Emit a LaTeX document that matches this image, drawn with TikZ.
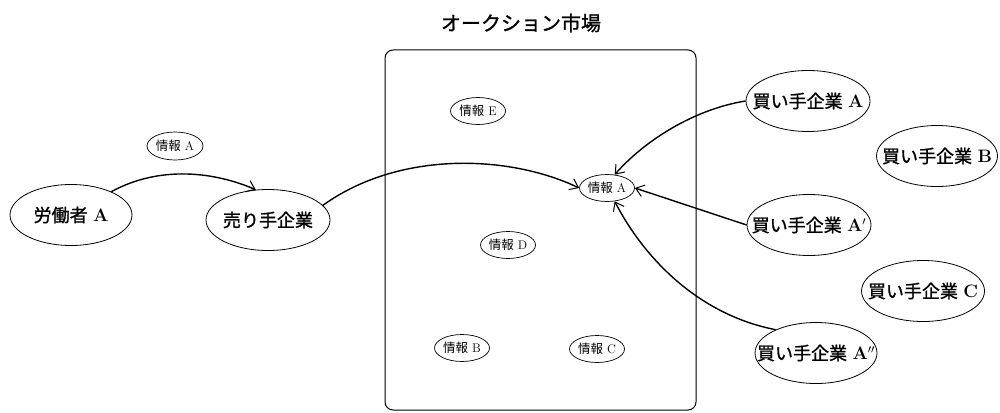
\documentclass[tikz,border=0pt]{standalone}
\usepackage{fontspec}
\newfontfamily\cjk{Noto Sans CJK JP}
\newfontfamily\cjkb[FakeBold=1.2]{Noto Sans CJK JP}
\usetikzlibrary{shapes.geometric,arrows.meta}
\tikzset{
  big/.style={ellipse,draw,line width=0.8pt,inner ysep=0pt,inner xsep=-16pt,minimum width=124pt,minimum height=61pt,font=\fontsize{18}{20}\selectfont},
  info/.style={ellipse,draw,line width=0.7pt,inner ysep=0pt,inner xsep=-4pt,minimum width=55pt,minimum height=27pt,font=\fontsize{12.5}{14}\selectfont},
  conn/.style={line width=1.4pt,-{Straight Barb[length=8pt,width=12pt,line width=1pt]}},
}
\begin{document}
\begin{tikzpicture}[x=1pt,y=-1pt]
\useasboundingbox (0,0) rectangle (1000,412);
\draw[line width=1pt,rounded corners=8pt] (385,50) rectangle (696,410);
\node[font=\fontsize{20}{22}\selectfont] (title) at (521,23) {\cjkb オークション市場};
\node[big,minimum width=122pt] (worker) at (71,215) {{\cjkb 労働者} \textbf{A}};
\node[big] (seller) at (268,220) {\cjkb 売り手企業};
\node[info,minimum width=56pt,minimum height=28pt] (infoAl) at (175,146) {{\cjk 情報} A};
\node[info] (infoE) at (478,111) {{\cjk 情報} E};
\node[info] (infoA) at (607,188) {{\cjk 情報} A};
\node[info] (infoD) at (508,245) {{\cjk 情報} D};
\node[info] (infoB) at (462,348) {{\cjk 情報} B};
\node[info] (infoC) at (597,349) {{\cjk 情報} C};
\node[big] (buyA) at (808,101) {{\cjkb 買い手企業} \textbf{A}};
\node[big,minimum width=121pt] (buyB) at (937,156) {{\cjkb 買い手企業} \textbf{B}};
\node[big] (buyA1) at (809,225) {{\cjkb 買い手企業} \textbf{A$'$}};
\node[big,minimum width=123pt] (buyC) at (923,291) {{\cjkb 買い手企業} \textbf{C}};
\node[big,minimum width=122pt] (buyA2) at (816,353) {{\cjkb 買い手企業} \textbf{A$''$}};
\draw[conn] (worker.30) .. controls (160,165) and (215,172) .. (seller.112);
\draw[conn] (seller.15) .. controls (400,150) and (510,155) .. (infoA.west);
\draw[conn] (buyA.west) .. controls (695,109) and (645,140) .. (infoA.60);
\draw[conn] (buyA1.west) -- (infoA.east);
\draw[conn] (buyA2.150) .. controls (700,315) and (645,260) .. (infoA.-60);
\end{tikzpicture}
\end{document}
